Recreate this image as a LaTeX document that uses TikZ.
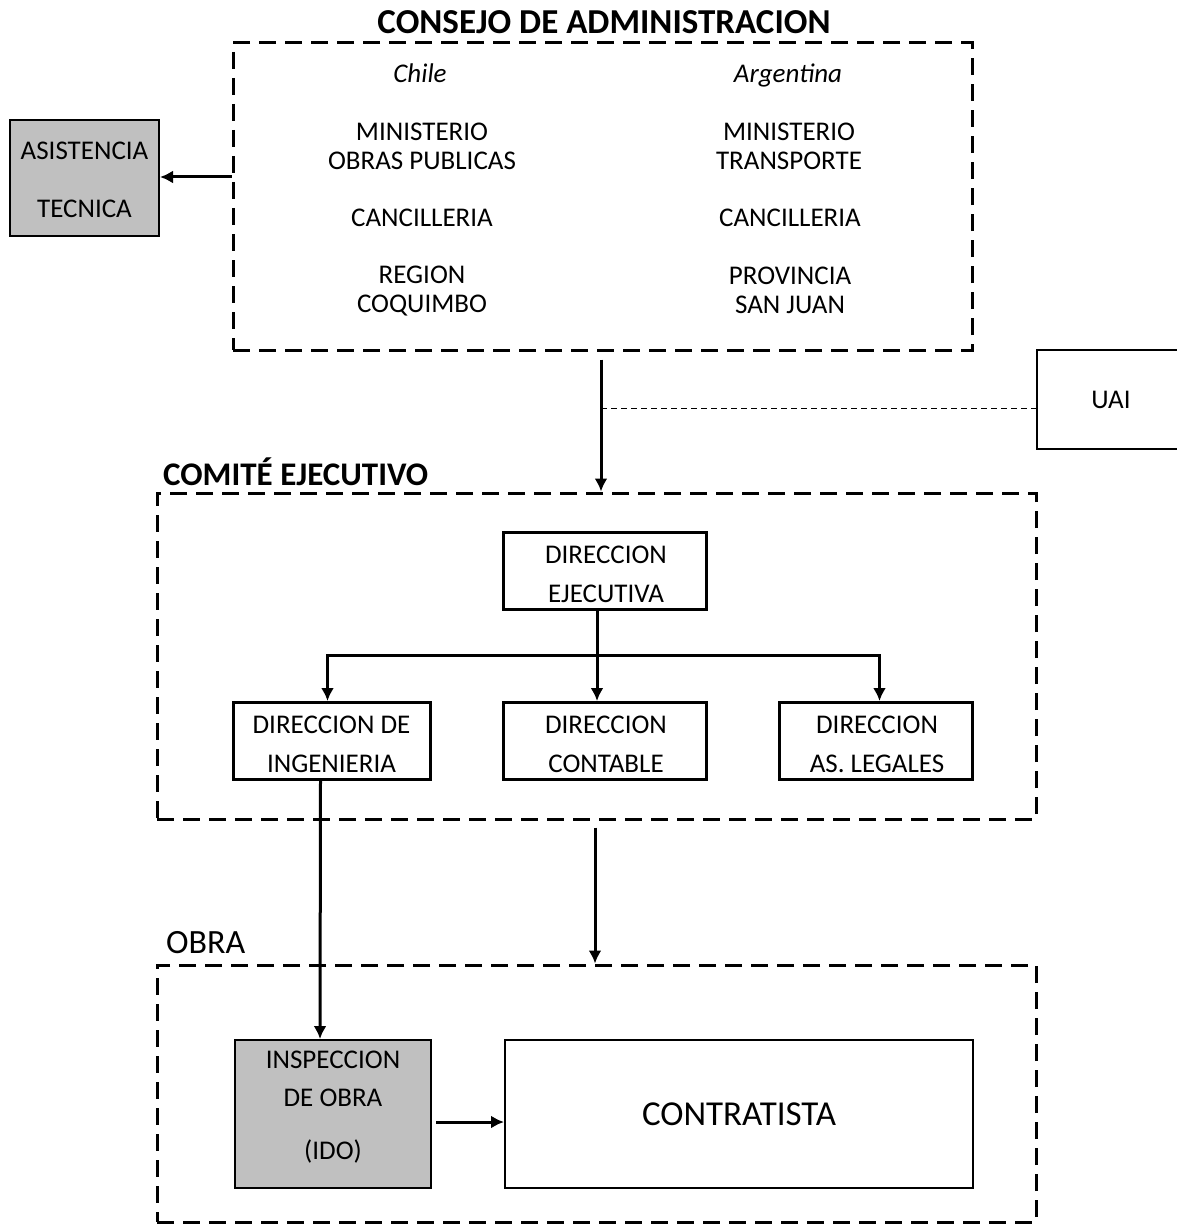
\documentclass[tikz,border=0pt]{standalone}
\usepackage{fontspec}
\setmainfont{Carlito}
\usetikzlibrary{arrows.meta}

\begin{document}
\begin{tikzpicture}[x=1pt, y=-1pt,
        txt/.style={inner sep=0pt, align=center, font=\fontsize{27}{29}\selectfont},
        head/.style={inner sep=0pt, font=\fontsize{34}{36}\selectfont},
        group/.style={draw, line width=3pt, dash pattern=on 17pt off 9pt, inner sep=0pt},
        dirbox/.style={draw, line width=3pt, inner sep=0pt, minimum height=77pt},
        dirtxt/.style={txt, font=\fontsize{27}{39}\selectfont},
        plainbox/.style={draw, line width=2pt, inner sep=0pt, align=center},
        greybox/.style={plainbox, fill=boxgrey},
        arr/.style={line width=3pt, -{Latex[length=13pt, width=13pt]}}
    ]
    \definecolor{boxgrey}{HTML}{C0C0C0}
    \useasboundingbox (0,0) rectangle (1176,1225);

        % consejo de administracion
        \node[head, font=\fontsize{35}{37}\selectfont\bfseries] (consejoT) at (604,22) {CONSEJO DE ADMINISTRACION};
        \node[group, minimum width=739pt, minimum height=307pt] (consejo) at (602.5,196.5) {};

        \node[txt, font=\fontsize{27}{29}\selectfont\itshape] (chile) at (420,73) {Chile};
        \node[txt] (cl1) at (422,146) {MINISTERIO\\OBRAS PUBLICAS};
        \node[txt] (cl2) at (422,218) {CANCILLERIA};
        \node[txt] (cl3) at (422,291) {REGION\\COQUIMBO};

        \node[txt, font=\fontsize{27}{29}\selectfont\itshape] (argentina) at (788,75) {Argentina};
        \node[txt] (ar1) at (789,146) {MINISTERIO\\TRANSPORTE};
        \node[txt] (ar2) at (790,218) {CANCILLERIA};
        \node[txt] (ar3) at (790,290) {PROVINCIA\\SAN JUAN};

        \node[greybox, minimum width=149pt, minimum height=116pt] (asist) at (84.5,178) {};
        \node[txt, font=\fontsize{27}{58}\selectfont] (asistT) at (84.5,180) {ASISTENCIA\\TECNICA};

        \node[plainbox, minimum width=150pt, minimum height=99pt,
            font=\fontsize{27}{29}\selectfont] (uai) at (1112,399.5) {\hspace*{-1pt}UAI\hspace*{1pt}};

        % comite ejecutivo
        \node[head, anchor=west, font=\fontsize{33}{35}\selectfont\bfseries] (comiteT) at (163,472) {COMITÉ EJECUTIVO};
        \node[group, minimum width=879pt, minimum height=326pt] (comite) at (596.5,656) {};

        \node[dirbox, minimum width=203pt] (dirE) at (604.5,570.5) {};
        \node[dirbox, minimum width=197pt] (dirI) at (331.5,741) {};
        \node[dirbox, minimum width=203pt] (dirC) at (604.5,741) {};
        \node[dirbox, minimum width=193pt] (dirL) at (875.5,741) {};
        \node[dirtxt] (dirET) at (606,574) {DIRECCION\\EJECUTIVA};
        \node[dirtxt] (dirIT) at (331.5,744) {DIRECCION DE\\INGENIERIA};
        \node[dirtxt] (dirCT) at (606,744) {DIRECCION\\CONTABLE};
        \node[dirtxt] (dirLT) at (877,744) {DIRECCION\\AS. LEGALES};

        % obra
        \node[head, anchor=west] (obraT) at (166,943) {OBRA};
        \node[group, minimum width=879pt, minimum height=257pt] (obra) at (596.5,1093.5) {};

        \node[greybox, minimum width=196pt, minimum height=148pt] (ido) at (333,1114) {};
        \node[txt, font=\fontsize{27}{38}\selectfont] (idoT) at (333,1107) {INSPECCION\\DE OBRA\\[15pt](IDO)};
        \node[plainbox, minimum width=468pt, minimum height=148pt,
            font=\fontsize{35}{37}\selectfont] (contr) at (739,1114) {CONTRATISTA};

        % #######################################

        \coordinate (tap) at (601,408);
        \coordinate (bus) at (597,655);

        \draw[arr] (consejo.west |- 0,177) -- (asist.east |- 0,177);
        \draw[arr, shorten <=8pt] (consejo.south -| tap) -- (comite.north -| tap);
        \draw[line width=1pt, dash pattern=on 6pt off 4pt] (tap) -- (uai.west |- tap);

        \draw[line width=3pt] (dirE.south -| bus) -- (bus);
        \draw[arr] (bus) -- (dirC.north -| bus);
        \draw[arr] (bus) -| ([xshift=-4pt]dirI.north);
        \draw[arr] (bus) -| ([xshift=4pt]dirL.north);

        \draw[arr] ([xshift=-11pt]dirI.south) -- ([xshift=-13pt]ido.north);
        \draw[arr, shorten <=7pt] (comite.south -| 595,0) -- (obra.north -| 595,0);
        \draw[arr, shorten <=4pt] (ido.east |- 0,1122) -- (contr.west |- 0,1122);

    \end{tikzpicture}
\end{document}
